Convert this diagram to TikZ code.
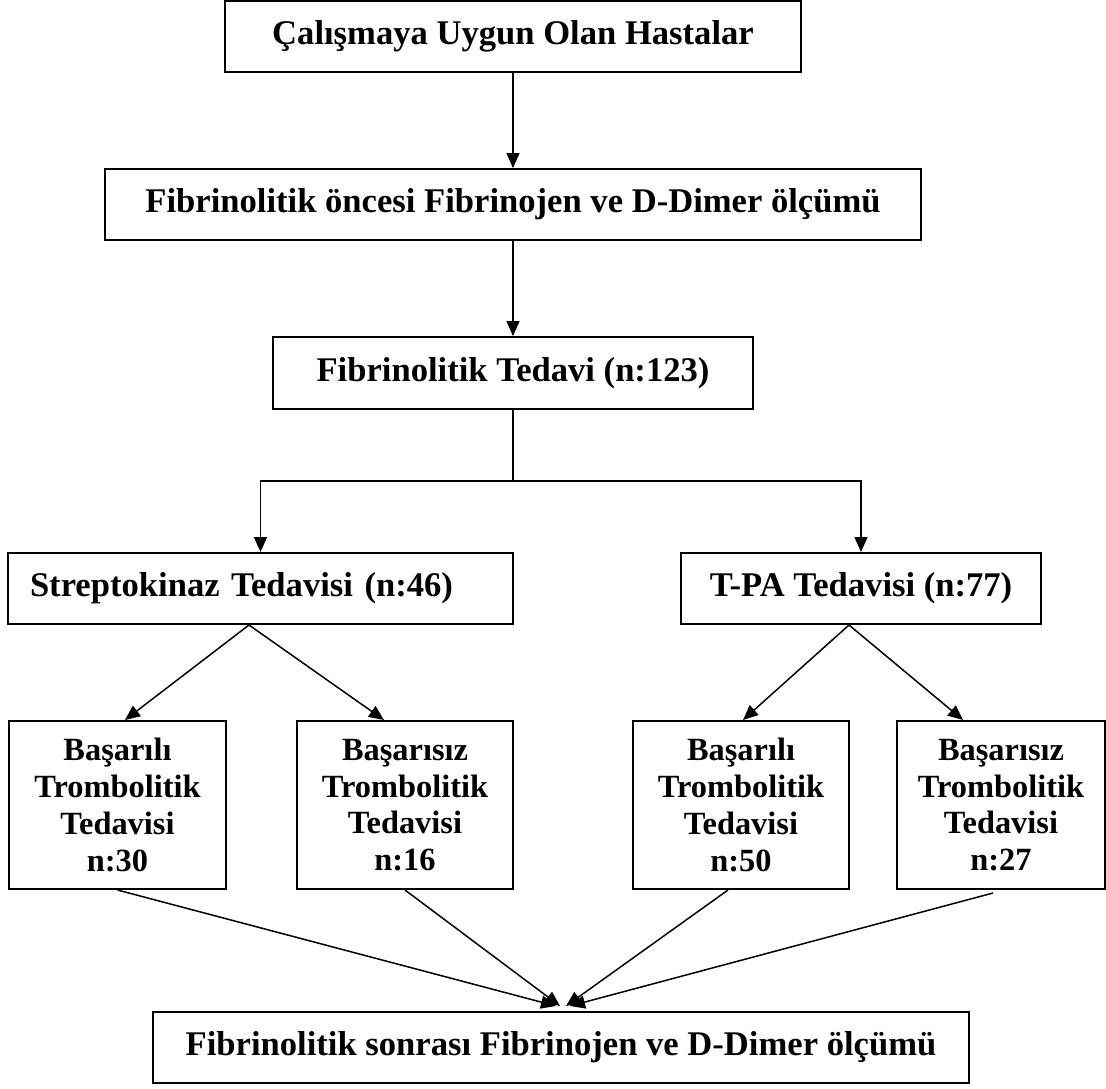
\documentclass[tikz,border=0pt]{standalone}
\usepackage{fontspec}
\setmainfont{Liberation Serif}
\usetikzlibrary{arrows.meta}
\tikzset{
  box/.style={draw, line width=2pt, inner sep=0pt, align=center,
    font=\bfseries\fontsize{34.6}{38}\selectfont},
  smallbox/.style={box, minimum height=168,
    font=\bfseries\fontsize{32.4}{36.7}\selectfont},
  conn/.style={line width=1.5pt, -{Triangle[length=15pt,width=13pt]}},
  plain/.style={line width=1.5pt}
}
\begin{document}
\begin{tikzpicture}[x=1pt,y=-1pt]
\useasboundingbox (0,0) rectangle (1106,1088);
\fill[white] (0,0) rectangle (1106,1088);
\node[box, minimum width=576, minimum height=71] (b1) at (513,36.5) {Çalışmaya Uygun Olan Hastalar};
\node[box, minimum width=816, minimum height=71] (b2) at (513,204.5) {Fibrinolitik öncesi Fibrinojen ve D-Dimer ölçümü};
\node[box, minimum width=480, minimum height=72] (b3) at (513,373) {Fibrinolitik Tedavi (n:123)};
\node[box, text width=461, inner xsep=22, align=left, minimum height=71] (b4) at (260.5,588.5) {Streptokinaz Tedavisi (n:46)};
\node[box, minimum width=360, minimum height=71] (b5) at (861,588.5) {T-PA Tedavisi (n:77)};
\node[smallbox, minimum width=217] (ba) at (117.5,805) {Başarılı\\Trombolitik\\Tedavisi\\n:30};
\node[smallbox, minimum width=216] (bb) at (405,805) {Başarısız\\Trombolitik\\Tedavisi\\n:16};
\node[smallbox, minimum width=216] (bc) at (741,805) {Başarılı\\Trombolitik\\Tedavisi\\n:50};
\node[smallbox, minimum width=208] (bd) at (1001,805) {Başarısız\\Trombolitik\\Tedavisi\\n:27};
\node[box, minimum width=816, minimum height=71] (bf) at (561,1047.5) {Fibrinolitik sonrası Fibrinojen ve D-Dimer ölçümü};
\coordinate (j) at (513,481);
\draw[conn] (b1.south) -- (b2.north);
\draw[conn] (b2.south) -- (b3.north);
\draw[plain] (b3.south) -- (j);
\draw[conn] (j) -| (b4.north);
\draw[conn] (j) -| (b5.north);
\draw[conn] ([xshift=-11.5]b4.south) -- ([xshift=7.5]ba.north);
\draw[conn] ([xshift=-11.5]b4.south) -- ([xshift=-21]bb.north);
\draw[conn] ([xshift=-12]b5.south) -- ([xshift=2]bc.north);
\draw[conn] ([xshift=-12]b5.south) -- ([xshift=-38]bd.north);
\draw[conn] (ba.south) -- ([xshift=-5,yshift=5]bf.north);
\draw[conn] (bb.south) -- ([xshift=-1,yshift=5]bf.north);
\draw[conn] ([xshift=-13]bc.south) -- ([xshift=5,yshift=5]bf.north);
\draw[conn] ([xshift=-8,yshift=-3]bd.south) -- ([xshift=9,yshift=5]bf.north);
\end{tikzpicture}
\end{document}
